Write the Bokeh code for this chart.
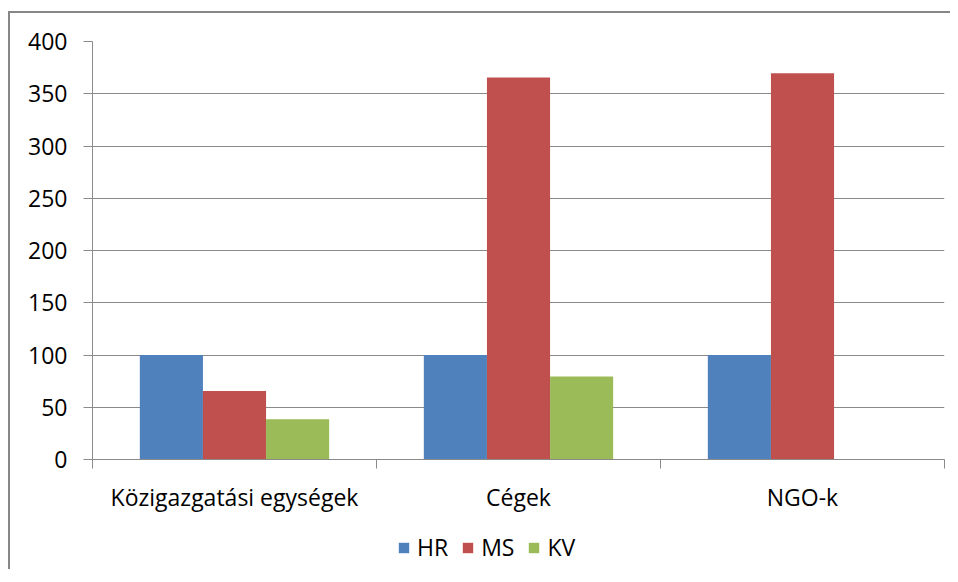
from bokeh.plotting import figure
from bokeh.layouts import column
from bokeh.models import Range1d, FixedTicker, Legend, LegendItem, ColumnDataSource
from bokeh.embed import file_html
from bokeh.resources import INLINE

categories = ["Közigazgatási egységek", "Cégek", "NGO-k"]
series = ["HR", "MS", "KV"]
hr = [100, 100, 100]
ms = [65.5, 365.5, 369.5]
kv = [38.5, 79.5, 0]
colors = ["#4F81BD", "#C0504D", "#9BBB59"]
y_ticks = [0, 50, 100, 150, 200, 250, 300, 350, 400]

FONT = "Open Sans"
GRID = "#8a8a8a"
BORDER = "2px solid #878787"

p = figure(frame_width=850, frame_height=416, output_backend="svg", toolbar_location=None,
           x_range=Range1d(0, len(categories)), y_range=Range1d(0, 400),
           min_border_left=82, min_border_right=8, min_border_top=28, min_border_bottom=0)
p.margin = (11, 0, 0, 8)
p.styles = {"border-left": BORDER, "border-top": BORDER}
p.outline_line_color = None
p.background_fill_color = "white"
p.border_fill_color = "white"

bw = 1.0 / 4.5
values = [hr, ms, kv]
for j, (name, vals, col) in enumerate(zip(series, values, colors)):
    xs = [i + 0.5 + (j - 1) * bw for i in range(len(categories))]
    src = ColumnDataSource(dict(x=xs, top=vals))
    p.vbar(x="x", top="top", bottom=0, width=bw, source=src,
           fill_color=col, line_color=None)

# y axis
p.yaxis.ticker = FixedTicker(ticks=y_ticks)
p.yaxis.axis_line_color = GRID
p.yaxis.major_tick_line_color = GRID
p.yaxis.major_tick_out = 9
p.yaxis.major_tick_in = 0
p.yaxis.minor_tick_line_color = None
p.yaxis.major_label_standoff = 16
p.yaxis.major_label_text_font = FONT
p.yaxis.major_label_text_font_size = "23px"
p.yaxis.major_label_text_color = "#000000"

# x axis: labels at centers, ticks at boundaries
p.xaxis.ticker = FixedTicker(ticks=[i + 0.5 for i in range(len(categories))],
                             minor_ticks=list(range(len(categories) + 1)))
p.xaxis.major_label_overrides = {i + 0.5: c for i, c in enumerate(categories)}
p.xaxis.axis_line_color = GRID
p.xaxis.major_tick_line_color = None
p.xaxis.major_tick_out = 0
p.xaxis.major_tick_in = 0
p.xaxis.minor_tick_line_color = GRID
p.xaxis.minor_tick_out = 9
p.xaxis.minor_tick_in = 0
p.xaxis.major_label_standoff = 12
p.xaxis.major_label_text_font = FONT
p.xaxis.major_label_text_font_size = "23px"
p.xaxis.major_label_text_color = "#000000"

p.xgrid.grid_line_color = None
p.ygrid.grid_line_color = GRID
p.ygrid.ticker = FixedTicker(ticks=y_ticks)

# legend strip below the chart
q = figure(width=940, height=56, output_backend="svg", toolbar_location=None,
           x_range=Range1d(0, 1), y_range=Range1d(0, 1),
           x_axis_type=None, y_axis_type=None,
           min_border_left=0, min_border_right=0, min_border_top=0, min_border_bottom=0)
q.margin = (0, 0, 0, 8)
q.styles = {"border-left": BORDER}
q.outline_line_color = None
q.xgrid.grid_line_color = None
q.ygrid.grid_line_color = None
q.background_fill_color = "white"
q.border_fill_color = "white"

leg_renderers = []
for name, col in zip(series, colors):
    src = ColumnDataSource(dict(x=[0.5], top=[0.0]))
    r = q.vbar(x="x", top="top", bottom=0, width=0.0, source=src,
               fill_color=col, line_color=None)
    leg_renderers.append(r)

legend = Legend(items=[LegendItem(label=s, renderers=[r]) for s, r in zip(series, leg_renderers)],
                orientation="horizontal", location=(305, 6),
                glyph_width=13, glyph_height=13, label_standoff=7, spacing=13,
                label_text_font=FONT, label_text_font_size="23px",
                label_text_color="#000000", border_line_color=None,
                background_fill_alpha=0, padding=0, margin=0)
q.add_layout(legend, "center")

layout = column(p, q, spacing=0)
open("out.html", "w").write(file_html(layout, INLINE))
